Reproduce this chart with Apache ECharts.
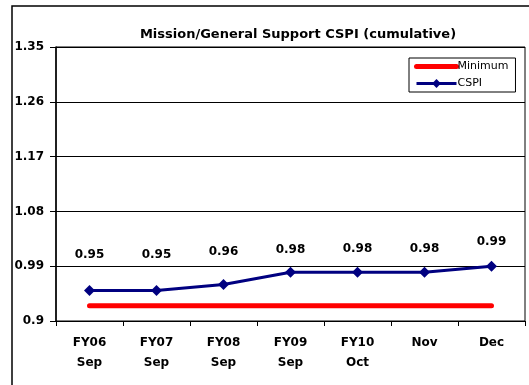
<!DOCTYPE html>
<html>
<head>
<meta charset="utf-8">
<script src="https://cdn.jsdelivr.net/npm/echarts@6/dist/echarts.min.js"></script>
<style>
  html, body { margin: 0; padding: 0; background: #fff; }
  #chart { width: 529px; height: 385px; }
</style>
</head>
<body>
<div id="chart"></div>
<script>
// Reporting periods (two-line labels)
const periods = ['FY06\nSep', 'FY07\nSep', 'FY08\nSep', 'FY09\nSep', 'FY10\nOct', 'Nov', 'Dec'];
// Cumulative CSPI per period
const cspi = [0.95, 0.95, 0.96, 0.98, 0.98, 0.98, 0.99];
// Minimum acceptable CSPI
const minimum = [0.925, 0.925, 0.925, 0.925, 0.925, 0.925, 0.925];
// Value axis range and step
const yMin = 0.9, yMax = 1.35, yStep = 0.09;

// Extra vertical gap between each point and its value label (px)
const labelLift = [20, 20, 17, 7, 8, 8, 9];

const font = 'DejaVu Sans, Verdana, sans-serif';
const chart = echarts.init(document.getElementById('chart'));

chart.setOption({
  animation: false,
  backgroundColor: '#fff',
  title: {
    text: 'Mission/General Support CSPI (cumulative)',
    left: 293, top: 23, textAlign: 'center',
    textStyle: { fontFamily: font, fontWeight: 'bold', fontSize: 13, color: '#000' }
  },
  graphic: [{
    type: 'rect', silent: true, z: 0,
    shape: { x: 12, y: 6, width: 600, height: 420 },
    style: { fill: 'none', stroke: '#000', lineWidth: 1.5 }
  }],
  legend: {
    orient: 'vertical', left: 409, top: 58,
    padding: [3, 7, 3, 5], itemGap: 6,
    itemWidth: 40, itemHeight: 11,
    borderColor: '#000', borderWidth: 1, backgroundColor: '#fff',
    textStyle: { fontFamily: font, fontSize: 11, color: '#000', padding: [0, 0, 0, -4] },
    // the Minimum entry shows its line only, without a point marker
    data: [
      { name: 'Minimum', itemStyle: { opacity: 0 }, lineStyle: { width: 5, cap: 'round' } },
      { name: 'CSPI', lineStyle: { width: 3 } }
    ]
  },
  grid: { left: 56, top: 47, right: 4, bottom: 64, show: true, borderColor: '#000', borderWidth: 1, backgroundColor: '#fff' },
  xAxis: {
    type: 'category', data: periods, boundaryGap: true,
    axisLine: { lineStyle: { color: '#000', width: 1 } },
    axisTick: { show: true, length: 5, inside: false, lineStyle: { color: '#000' } },
    axisLabel: { fontFamily: font, fontWeight: 'bold', fontSize: 12, color: '#000', lineHeight: 20, margin: 12 }
  },
  yAxis: {
    type: 'value', min: yMin, max: yMax, interval: yStep,
    axisLine: { show: true, lineStyle: { color: '#000', width: 1.5 } },
    axisTick: { show: true, length: 6, lineStyle: { color: '#000' } },
    splitLine: { lineStyle: { color: '#000', width: 1 } },
    axisLabel: {
      fontFamily: font, fontWeight: 'bold', fontSize: 12, color: '#000', margin: 12,
      formatter: v => String(+v.toFixed(2))
    }
  },
  series: [
    {
      name: 'Minimum', type: 'line', data: minimum,
      symbol: 'none', color: '#ff0000',
      lineStyle: { color: '#ff0000', width: 5, cap: 'round' },
      z: 2
    },
    {
      name: 'CSPI', type: 'line',
      data: cspi.map((v, i) => ({
        value: v,
        label: { offset: [0, -labelLift[i]] }
      })),
      symbol: 'diamond', symbolSize: 11, color: '#000080',
      lineStyle: { color: '#000080', width: 3 },
      itemStyle: { color: '#000080' },
      label: {
        show: true, position: 'top', distance: 4,
        fontFamily: font, fontWeight: 'bold', fontSize: 12, color: '#000',
        formatter: p => p.value.toFixed(2)
      },
      z: 3
    }
  ]
});
</script>
</body>
</html>
